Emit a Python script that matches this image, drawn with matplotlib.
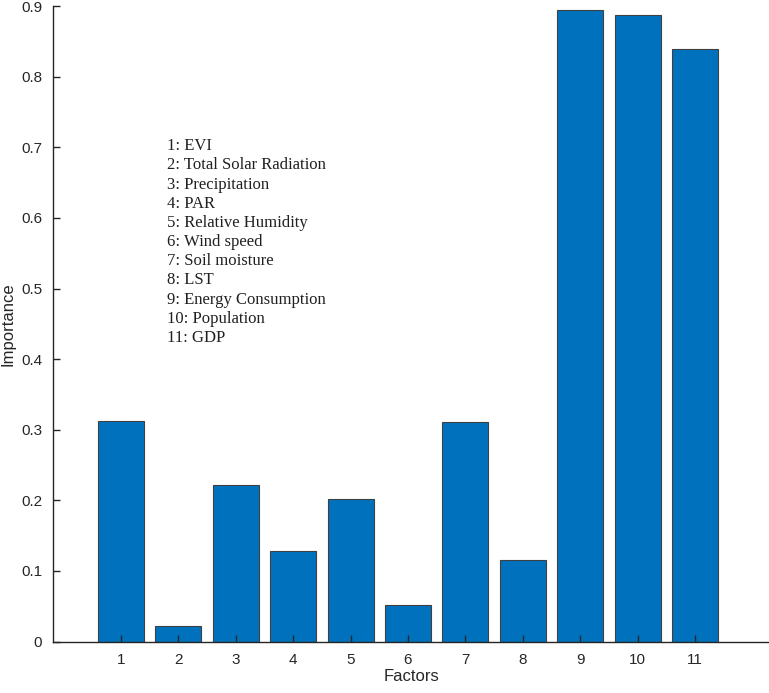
import matplotlib.pyplot as plt

# Factor importance values
factors = [1, 2, 3, 4, 5, 6, 7, 8, 9, 10, 11]
importance = [0.313, 0.022, 0.222, 0.128, 0.202, 0.052, 0.311, 0.115, 0.894, 0.887, 0.839]
factor_names = ['EVI', 'Total Solar Radiation', 'Precipitation', 'PAR',
                'Relative Humidity', 'Wind speed', 'Soil moisture', 'LST',
                'Energy Consumption', 'Population', 'GDP']

fig = plt.figure(figsize=(7.69, 6.93), dpi=100)
ax = fig.add_axes([0.0693, 0.0743, 0.9307, 0.9167])

ax.bar(factors, importance, width=0.8, color='#0072BD',
       edgecolor='#404040', linewidth=0.8)

ax.set_xlim(-0.18, 12.29)
ax.set_ylim(0, 0.9)
ax.set_xticks(factors)
ax.set_yticks([i / 10 for i in range(10)])
ax.set_yticklabels(['0'] + [f'{i / 10:.1f}' for i in range(1, 10)])

for side in ['top', 'right']:
    ax.spines[side].set_visible(False)
for side in ['left', 'bottom']:
    ax.spines[side].set_color('#262626')
    ax.spines[side].set_linewidth(1.0)

ax.tick_params(direction='in', length=5, width=1.0, color='#262626',
               labelcolor='#262626', labelsize=11, labelfontfamily='Liberation Sans')
ax.tick_params(axis='x', pad=8)
ax.tick_params(axis='y', pad=8)

ax.set_xlabel('Factors', fontsize=12, family='Liberation Sans', color='#262626', labelpad=2)
ax.set_ylabel('Importance', fontsize=12, family='Liberation Sans', color='#262626', labelpad=4)

# factor key drawn as plain text inside the axes
legend_text = '\n'.join(f'{i}: {name}' for i, name in zip(factors, factor_names))
ax.text(1.80, 0.713, legend_text, family='Liberation Serif', fontsize=12,
        color='#202020', va='top', ha='left', linespacing=1.265)

fig.savefig('out.png', dpi=100)
